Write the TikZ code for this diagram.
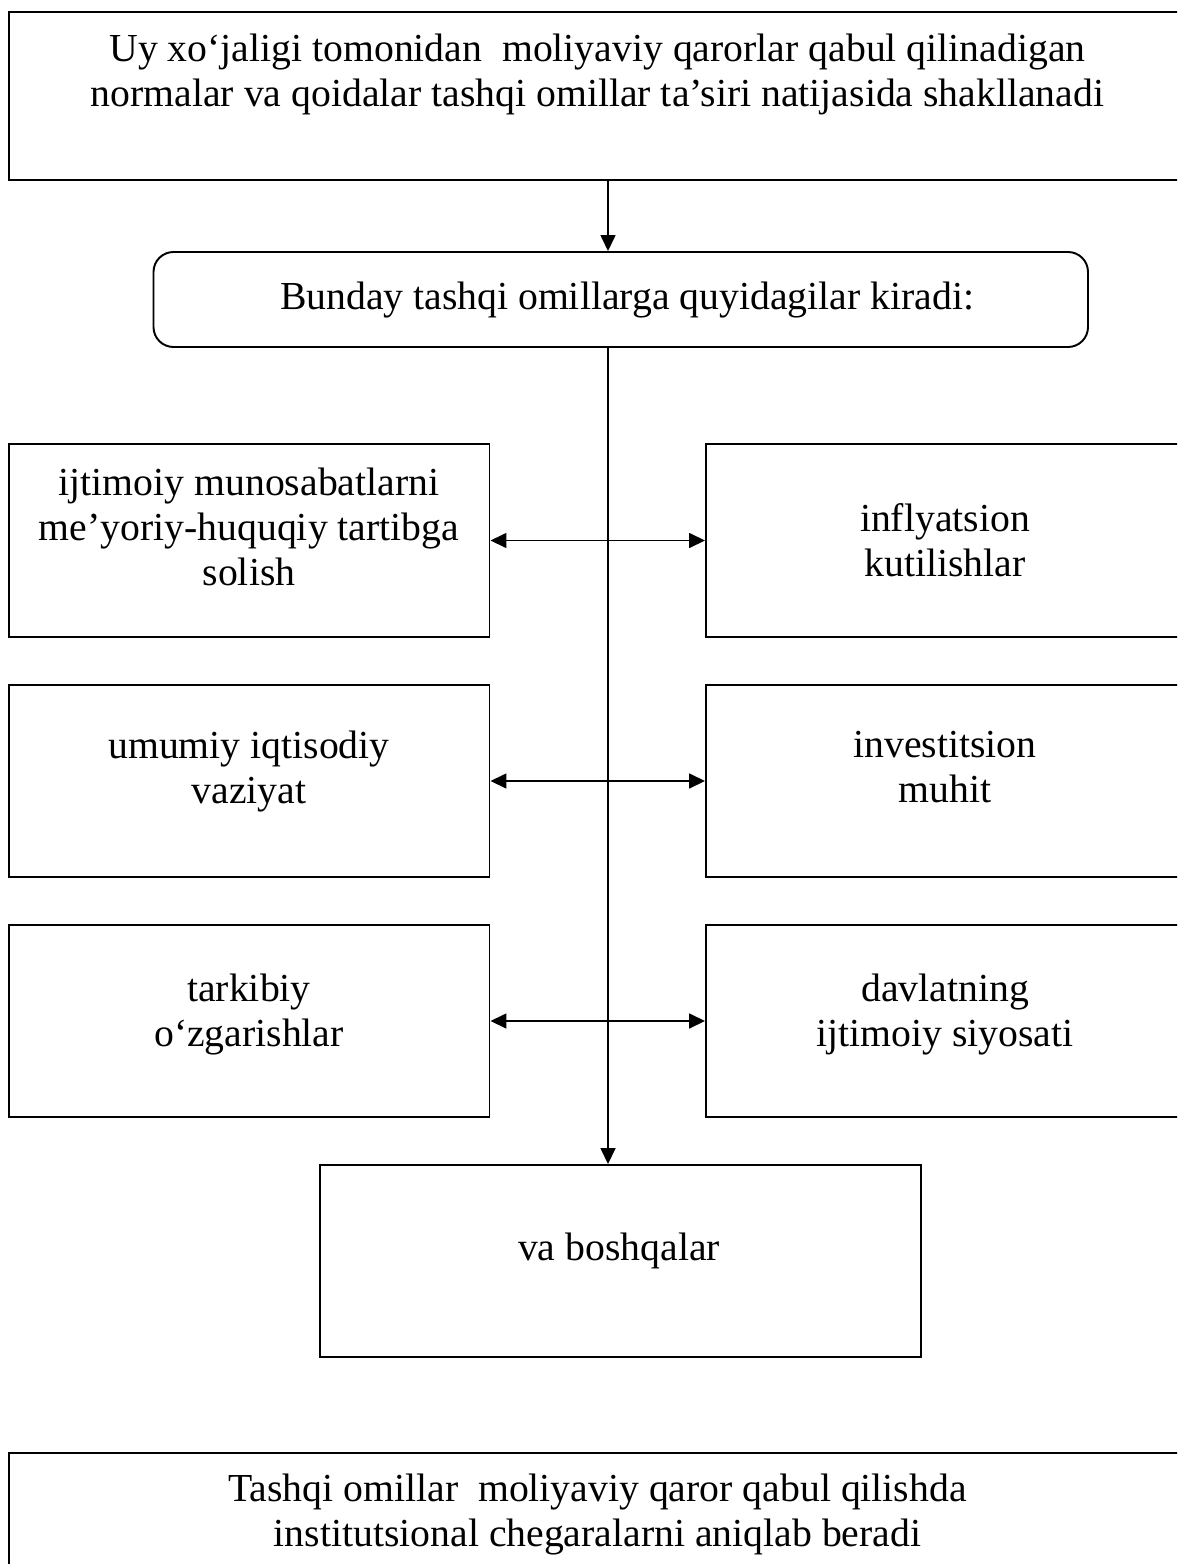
\documentclass[tikz,border=0pt]{standalone}
\usepackage{fontspec}
\setmainfont{Liberation Serif}
\usepackage{tikz}
\usetikzlibrary{arrows.meta, positioning, fit, calc}
\tikzset{
  frame/.style={draw=black, line width=1.1pt, inner sep=0pt},
  txt/.style={font=\fontsize{22.6}{25.6}\selectfont, align=center,
              inner sep=0pt, anchor=north, execute at begin node=\strut},
  link/.style={line width=0.9pt, -{Triangle[length=0.32cm, width=0.3cm]}},
  both/.style={line width=0.9pt,
               {Triangle[length=0.32cm, width=0.3cm]}-{Triangle[length=0.32cm, width=0.3cm]}}
}

\begin{document}
\begin{tikzpicture}[x=0.02cm, y=-0.02cm]
        \useasboundingbox (0,0) rectangle (1177,1564);
        \clip (0,0) rectangle (1177,1564);
        \coordinate (spine) at (608,0);

        % ── top statement ──
        \node[frame, fit={(9,12) (1186,180)}] (top) {};
        \node[txt] (toptext) at (597.5,34)
              {Uy xo‘jaligi tomonidan\ \ moliyaviy qarorlar qabul qilinadigan\\
               normalar va qoidalar tashqi omillar ta’siri natijasida shakllanadi};

        % ── header (rounded) ──
        \node[frame, rounded corners=0.4cm, fit={(153.5,252) (1088,347)}] (bund) {};
        \node[txt] (bundtext) at (627,277.5) {Bunday tashqi omillarga quyidagilar kiradi:};

        % ── factor boxes, left column ──
        \node[frame, fit={(9,444) (489.5,637)}] (l1) {};
        \node[frame, fit={(9,685) (489.5,877)}] (l2) {};
        \node[frame, fit={(9,925) (489.5,1117)}] (l3) {};
        \node[txt] at (249,467.5) {ijtimoiy munosabatlarni\\ me’yoriy-huquqiy tartibga\\ solish};
        \node[txt] at (249,730.5) {umumiy iqtisodiy\\ vaziyat};
        \node[txt] at (249,974) {tarkibiy\\ o‘zgarishlar};

        % ── factor boxes, right column ──
        \node[frame, fit={(706,444) (1186,637)}] (r1) {};
        \node[frame, fit={(706,685) (1186,877)}] (r2) {};
        \node[frame, fit={(706,925) (1186,1117)}] (r3) {};
        \node[txt] at (945,503) {inflyatsion\\ kutilishlar};
        \node[txt] at (945,730.5) {investitsion\\ muhit};
        \node[txt] at (945,974) {davlatning\\ ijtimoiy siyosati};

        % ── others ──
        \node[frame, fit={(320,1165) (921,1357)}] (etc) {};
        \node[txt] at (619,1229) {va boshqalar};

        % ── conclusion ──
        \node[frame, fit={(9,1453) (1186,1620)}] (bottom) {};
        \node[txt] at (597.5,1474)
              {Tashqi omillar\ \ moliyaviy qaror qabul qilishda\\
               institutsional chegaralarni aniqlab beradi};

        % connectors
        \draw[link] (top.south -| spine) -- (bund.north -| spine);
        \draw[link] (bund.south -| spine) -- (etc.north -| spine);
        \draw[both] (l1.east) -- (r1.west);
        \draw[both] (l2.east) -- (r2.west);
        \draw[both] (l3.east) -- (r3.west);
      \end{tikzpicture}
\end{document}
